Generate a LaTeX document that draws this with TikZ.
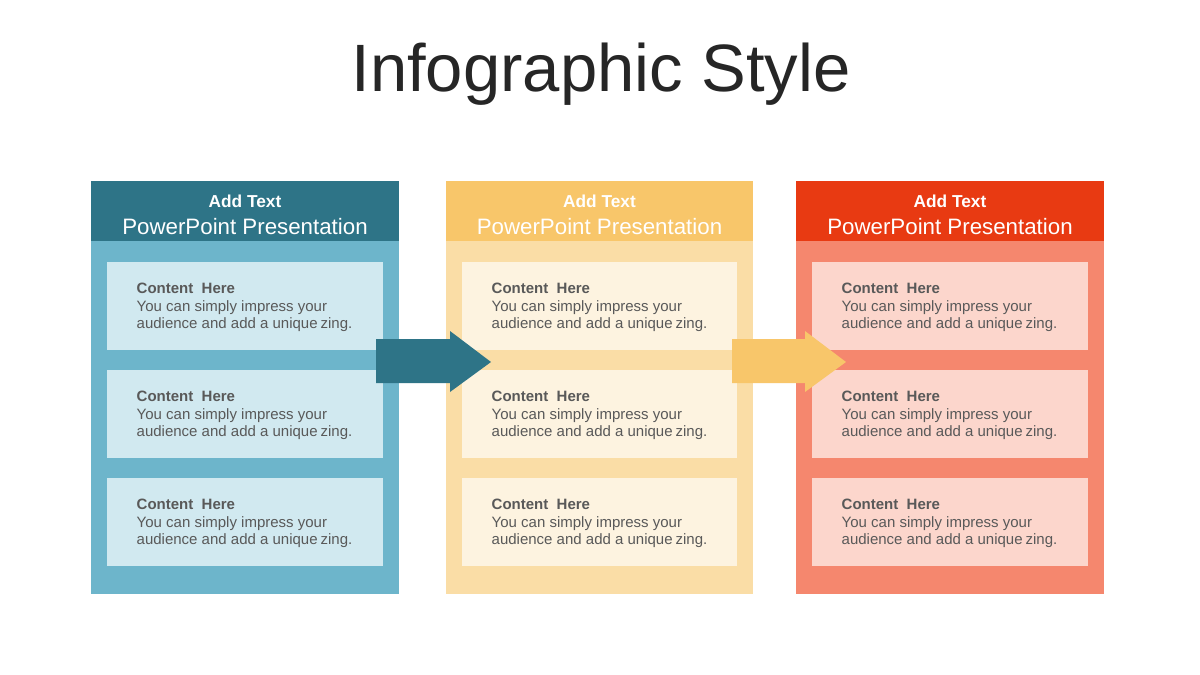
\documentclass[tikz,border=0pt]{standalone}
\usepackage{fontspec}
\setmainfont{Liberation Sans}
\definecolor{tealH}{RGB}{46,116,135}
\definecolor{tealB}{RGB}{109,181,203}
\definecolor{tealC}{RGB}{209,233,240}
\definecolor{yelH}{RGB}{248,198,106}
\definecolor{yelB}{RGB}{250,221,166}
\definecolor{yelC}{RGB}{253,243,224}
\definecolor{redH}{RGB}{232,58,18}
\definecolor{redB}{RGB}{245,135,110}
\definecolor{redC}{RGB}{252,214,204}
\definecolor{txtgray}{RGB}{89,89,89}
\definecolor{titlegray}{RGB}{38,38,38}
\begin{document}
\begin{tikzpicture}[x=1pt,y=-1pt,
  hdrtext/.style={text=white,font=\fontsize{17.3}{20}\selectfont\bfseries,inner sep=0pt},
  subtext/.style={text=white,font=\fontsize{22.3}{26}\selectfont,inner sep=0pt},
  cardtext/.style={text=txtgray,font=\fontsize{15}{17.8}\selectfont,align=left,anchor=west,inner sep=0pt}]
\useasboundingbox (0,0) rectangle (1200,675);
\fill[white] (0,0) rectangle (1200,675);
\node[text=titlegray,font=\fontsize{67}{70}\selectfont,inner sep=0pt] (title) at (601,74) {Infographic Style};
\foreach \name/\xl/\xr/\ci/\cl/\ct in {L/91/399/tealH/tealB/tealC, M/446/753/yelH/yelB/yelC, R/796/1104/redH/redB/redC}{
  \fill[\cl] (\xl,241) rectangle (\xr,594);
  \fill[\ci] (\xl,181) rectangle (\xr,241);
  \pgfmathsetmacro{\xc}{(\xl+\xr)/2}
  \node[hdrtext] (add\name) at (\xc,201.5) {Add Text};
  \node[subtext] (pp\name) at (\xc,227) {PowerPoint Presentation};
  \foreach \k/\yt in {1/262,2/370,3/478}{
    \fill[\ct] (\xl+16,\yt) rectangle (\xr-16,\yt+88);
    \node[cardtext] (c\name\k) at (\xl+45.5,\yt+45.5) {\textbf{Content\ \ Here}\\You can simply impress your\\audience and add a unique\hspace{0.2em}zing.};
  }
}
\fill[tealH] (376,339) -- (450,339) -- (450,331) -- (491,362) -- (450,392) -- (450,383) -- (376,383) -- cycle;
\fill[yelH] (732,339) -- (805,339) -- (805,331) -- (846,362) -- (805,392) -- (805,383) -- (732,383) -- cycle;
\end{tikzpicture}
\end{document}
